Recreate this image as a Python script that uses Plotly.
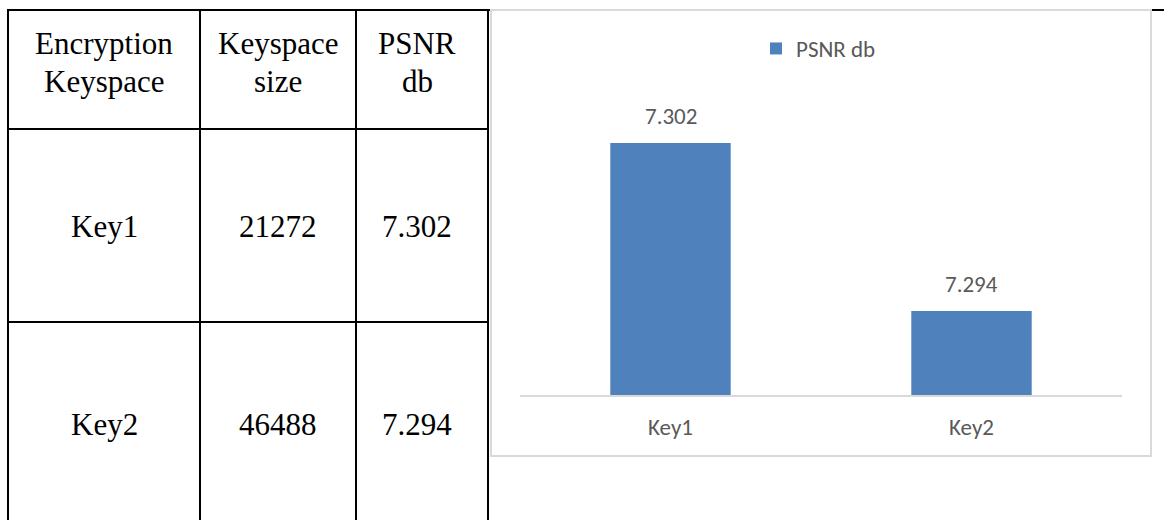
import plotly.graph_objects as go

W, H = 1164, 520

# Data
keys = ["Key1", "Key2"]
keyspace_size = [21272, 46488]
psnr_db = [7.302, 7.294]
header_lines = [["Encryption", "Keyspace"], ["Keyspace", "size"], ["PSNR", "db"]]
y_range = [7.290, 7.304]

BAR_BLUE = "#4F81BD"
TEXT_GRAY = "#595959"
BORDER_GRAY = "#D9D9D9"
SERIF = "Liberation Serif, Times New Roman, serif"
SANS = "Carlito, Calibri, Lato, sans-serif"
SANS_SIZE = 23


def px(x):
    return x / W


def py(y):
    return 1 - y / H


fig = go.Figure()
fig.add_trace(go.Bar(
    x=keys, y=psnr_db, name="PSNR db", width=0.4,
    marker=dict(color=BAR_BLUE, line=dict(width=0)),
    hoverinfo="x+y",
))

shapes = []
annotations = []

# Table grid
col_x = [8, 200, 356, 488]
row_y = [10, 129, 322]
for x in col_x:
    shapes.append(dict(type="line", xref="paper", yref="paper",
                       x0=px(x), x1=px(x), y0=py(row_y[0] - 1), y1=py(H + 2),
                       line=dict(color="black", width=2)))
for y in row_y[1:]:
    shapes.append(dict(type="line", xref="paper", yref="paper",
                       x0=px(col_x[0]), x1=px(col_x[-1]), y0=py(y), y1=py(y),
                       line=dict(color="black", width=2)))
shapes.append(dict(type="line", xref="paper", yref="paper",
                   x0=px(col_x[0] - 1), x1=px(490), y0=py(10), y1=py(10),
                   line=dict(color="black", width=2)))
shapes.append(dict(type="line", xref="paper", yref="paper",
                   x0=px(1152), x1=px(W + 2), y0=py(10), y1=py(10),
                   line=dict(color="black", width=2)))

# Chart frame
shapes.append(dict(type="rect", xref="paper", yref="paper",
                   x0=px(491), x1=px(1151), y0=py(456), y1=py(10),
                   line=dict(color=BORDER_GRAY, width=2)))

# Table text
col_cx = [104, 278, 417]
for cx, lines in zip(col_cx, header_lines):
    for ly, txt in zip([43, 81], lines):
        annotations.append(dict(xref="paper", yref="paper", x=px(cx), y=py(ly),
                                xanchor="center", yanchor="middle", showarrow=False,
                                text=txt, font=dict(family=SERIF, size=31, color="black")))
for cy, key, size, val in zip([226, 424], keys, keyspace_size, psnr_db):
    for cx, txt in zip(col_cx, [key, str(size), f"{val:.3f}"]):
        annotations.append(dict(xref="paper", yref="paper", x=px(cx), y=py(cy),
                                xanchor="center", yanchor="middle", showarrow=False,
                                text=txt, font=dict(family=SERIF, size=31, color="black")))

# Bar value labels
for key, val in zip(keys, psnr_db):
    annotations.append(dict(xref="x", yref="y", x=key, y=val,
                            xanchor="center", yanchor="bottom", yshift=11,
                            showarrow=False, text=f"{val:.3f}",
                            font=dict(family=SANS, size=SANS_SIZE, color=TEXT_GRAY)))

fig.update_layout(
    width=W, height=H,
    margin=dict(l=0, r=0, t=0, b=0),
    paper_bgcolor="white", plot_bgcolor="white",
    shapes=shapes, annotations=annotations,
    showlegend=True,
    legend=dict(orientation="h", x=px(756), y=py(27), xanchor="left", yanchor="top",
                font=dict(family=SANS, size=SANS_SIZE, color=TEXT_GRAY),
                bgcolor="rgba(0,0,0,0)"),
    xaxis=dict(domain=[px(520), px(1122)], range=[-0.5, 1.5], type="category",
               showline=True, linecolor=BORDER_GRAY, linewidth=1.5,
               showgrid=False, zeroline=False, ticks="", ticklabelstandoff=11,
               tickfont=dict(family=SANS, size=SANS_SIZE, color=TEXT_GRAY)),
    yaxis=dict(domain=[py(395), py(101)], range=y_range, visible=False,
               showgrid=False, zeroline=False),
)

fig.write_html("out.html")
